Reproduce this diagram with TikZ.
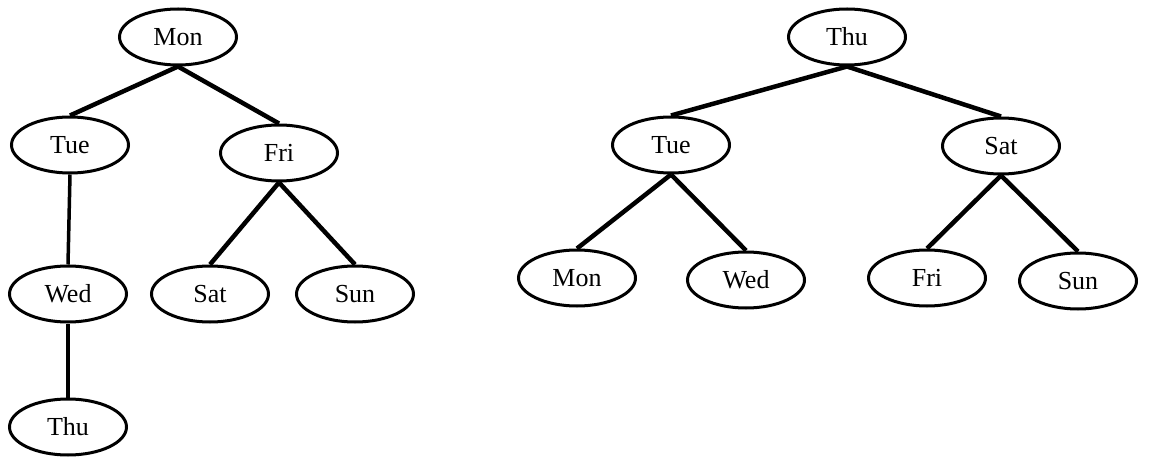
\documentclass[tikz,border=0pt]{standalone}
\usepackage{fontspec}
\setmainfont{Liberation Serif}
\usetikzlibrary{shapes.geometric}
\begin{document}
\begin{tikzpicture}[
    x=1pt,
    y=-1pt,
    font=\fontsize{26}{30}\selectfont,
    day/.style={draw, ellipse, line width=3pt, minimum width=117pt, minimum height=56pt, inner sep=0pt},
    link/.style={line width=4.5pt}
]
\useasboundingbox (0,0) rectangle (1149,457);

% left tree
\node[day] (lmon) at (178,37) {Mon};
\node[day] (ltue) at (70,145) {Tue};
\node[day] (lfri) at (279,153) {Fri};
\node[day] (lwed) at (68,294) {Wed};
\node[day] (lsat) at (210,294) {Sat};
\node[day] (lsun) at (355,294) {Sun};
\node[day] (lthu) at (68,427) {Thu};

\draw[link] (lmon.south) -- (ltue.north);
\draw[link] (lmon.south) -- (lfri.north);
\draw[line width=3.5pt] (ltue.south) -- (lwed.north);
\draw[line width=3.5pt] (lwed.south) -- (lthu.north);
\draw[link] (lfri.south) -- (lsat.north);
\draw[link] (lfri.south) -- (lsun.north);

% right tree
\node[day] (rthu) at (847,37) {Thu};
\node[day] (rtue) at (671,145) {Tue};
\node[day] (rsat) at (1001,146) {Sat};
\node[day] (rmon) at (577,278) {Mon};
\node[day] (rwed) at (746,280) {Wed};
\node[day] (rfri) at (927,278) {Fri};
\node[day] (rsun) at (1078,281) {Sun};

\draw[link] (rthu.south) -- (rtue.north);
\draw[link] (rthu.south) -- (rsat.north);
\draw[link] (rtue.south) -- (rmon.north);
\draw[link] (rtue.south) -- (rwed.north);
\draw[link] (rsat.south) -- (rfri.north);
\draw[link] (rsat.south) -- (rsun.north);
\end{tikzpicture}
\end{document}
